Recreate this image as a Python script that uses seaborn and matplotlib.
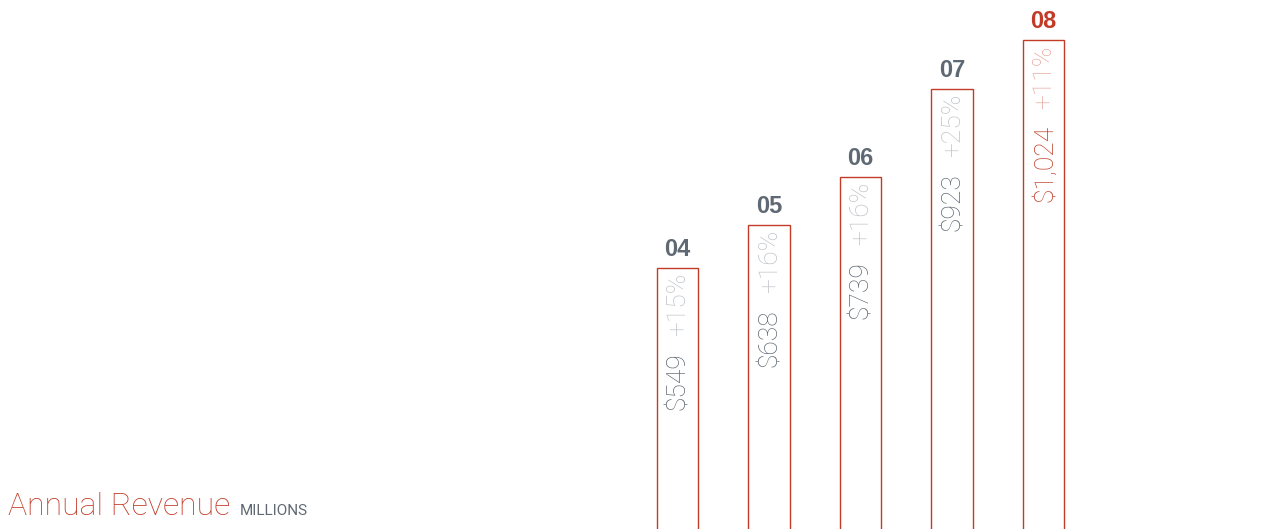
import matplotlib
matplotlib.use("Agg")
import matplotlib.pyplot as plt
import seaborn as sns
import pandas as pd

# ---------- Data ----------
years = ["04", "05", "06", "07", "08"]
revenue = [549, 638, 739, 923, 1024]
growth = ["+15%", "+16%", "+16%", "+25%", "+11%"]
value_labels = ["$549", "$638", "$739", "$923", "$1,024"]

RED = "#c23b27"
RED_LIGHT = "#e8a79c"
SLATE = "#5f6973"
GREY_LIGHT = "#bfc3c7"
LIGHT_FONT = ["Roboto", "Liberation Sans"]

sns.set_theme(style="white")
plt.rcParams["font.family"] = ["Liberation Sans", "DejaVu Sans"]

df = pd.DataFrame({"year": years, "revenue": revenue})

fig = plt.figure(figsize=(12.63, 5.29), dpi=100)
ax = fig.add_axes([0, 0, 1, 1])

sns.barplot(data=df, x="year", y="revenue", fill=False, width=0.45,
            edgecolor=RED, linewidth=1.0, ax=ax)

# bars run off the bottom edge of the figure (bottom edge clipped away)
ax.set_xlim(-7.404, 6.399)
ax.set_ylim(3, 1108)
ax.axis("off")

fig.canvas.draw()
renderer = fig.canvas.get_renderer()

for i, (yr, v, g, vl) in enumerate(zip(years, revenue, growth, value_labels)):
    last = i == len(years) - 1
    # year label above the bar
    ax.annotate(yr, (i, v), xytext=(0, 7), textcoords="offset pixels",
                ha="center", va="bottom", fontsize=17, fontweight="bold",
                color=RED if last else SLATE)
    # growth percentage, rotated, near top of bar
    pt = ax.annotate(g, (i, v), xytext=(1, -5), textcoords="offset pixels",
                     ha="center", va="top", rotation=90, fontsize=19,
                     fontfamily=LIGHT_FONT, fontweight="light",
                     color=RED_LIGHT if last else GREY_LIGHT)
    ext = pt.get_window_extent(renderer)
    ax.annotate(vl, (i, v), xytext=(1, -5 - ext.height - 16), textcoords="offset pixels",
                ha="center", va="top", rotation=90, fontsize=19,
                fontfamily=LIGHT_FONT, fontweight="light",
                color=RED if last else SLATE)

fig.text(8 / 1263, (529 - 515) / 529, "Annual Revenue", color=RED, fontsize=23,
         fontfamily=LIGHT_FONT, fontweight="light",
         ha="left", va="baseline")
fig.text(240 / 1263, (529 - 515) / 529, "MILLIONS", color=SLATE, fontsize=11,
         fontfamily=LIGHT_FONT, ha="left", va="baseline")

fig.savefig("out.png", dpi=100)
